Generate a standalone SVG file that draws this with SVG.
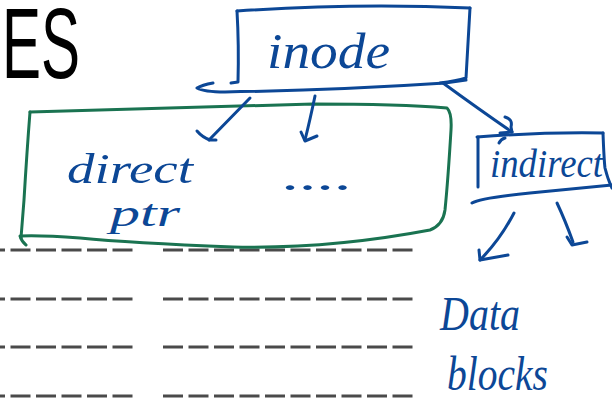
<svg xmlns="http://www.w3.org/2000/svg" width="612" height="400" viewBox="0 0 612 400">
<style>
.ink{fill:none;stroke:#0c4796;stroke-width:3;stroke-linecap:round;stroke-linejoin:round}
.grn{fill:none;stroke:#1a7351;stroke-width:3;stroke-linecap:round;stroke-linejoin:round}
.dash{fill:none;stroke:#4a4a4a;stroke-width:3;stroke-dasharray:20 5.5}
.hw{fill:#0c4796;font-family:"Liberation Serif",serif;font-style:italic}
</style>
<rect width="612" height="400" fill="#ffffff"/>
<g id="title">
<text x="2" y="78" font-family="Liberation Sans, Arial, sans-serif" font-size="101" textLength="78" lengthAdjust="spacingAndGlyphs" fill="#000">ES</text>
</g>
<g id="ruled-lines">
<line class="dash" x1="-15" y1="250" x2="133" y2="250"/>
<line class="dash" x1="163" y1="250" x2="413" y2="250"/>
<line class="dash" x1="-15" y1="299" x2="133" y2="299"/>
<line class="dash" x1="163" y1="299" x2="413" y2="299"/>
<line class="dash" x1="-15" y1="347" x2="133" y2="347"/>
<line class="dash" x1="163" y1="347" x2="413" y2="347"/>
<line class="dash" x1="-15" y1="396" x2="133" y2="396"/>
<line class="dash" x1="163" y1="396" x2="413" y2="396"/>
</g>
<g id="inode">
<path class="ink" d="M237,11 Q355,3 470,8"/>
<path class="ink" d="M237,11 Q239,45 238,82 L231,83"/>
<path class="ink" d="M470,8 Q468,45 466,78 Q456,81 440,83"/>
<path class="ink" d="M213,83 Q202,85 197,88 Q204,92 225,92 Q340,90 445,83 L466,80"/>
<text class="hw" x="267" y="68" font-size="50" textLength="123" lengthAdjust="spacingAndGlyphs">inode</text>
</g>
<g id="direct-block">
<path class="grn" d="M30,112 Q150,108 313,104 Q400,104 447,108 Q452,113 451,130 Q448,180 445,210 Q443,225 430,230 Q330,249 233,247 Q130,243 80,238 Q40,235 20,236 Q22,242 26,245"/>
<path class="grn" d="M30,112 Q27,150 24,200 Q22,225 21,238"/>
<text class="hw" x="67" y="183" font-size="42" textLength="126" lengthAdjust="spacingAndGlyphs">direct</text>
<text class="hw" x="110" y="226" font-size="38" textLength="70" lengthAdjust="spacingAndGlyphs">ptr</text>
<text class="hw" x="283" y="190" font-size="40" textLength="70" lengthAdjust="spacingAndGlyphs">....</text>
</g>
<g id="indirect">
<path class="ink" d="M477,137 Q540,132 603,133"/>
<path class="ink" d="M478,137 L478,187"/>
<path class="ink" d="M499,143 Q501,139 505,138"/>
<path class="ink" d="M603,133 Q604,160 605,168 Q608,180 612,188"/>
<path class="ink" d="M472,203 Q480,198 530,193 Q580,188 612,185"/>
<text class="hw" x="490" y="177" font-size="40" textLength="113" lengthAdjust="spacingAndGlyphs">indirect</text>
</g>
<g id="data-blocks">
<text class="hw" x="440" y="330" font-size="48" textLength="80" lengthAdjust="spacingAndGlyphs">Data</text>
<text class="hw" x="447" y="390" font-size="48" textLength="101" lengthAdjust="spacingAndGlyphs">blocks</text>
</g>
<g id="connectors">
<path class="ink" d="M250,98 L209,140"/>
<path class="ink" d="M197,131 Q202,137 210,140 L216,140"/>
<path class="ink" d="M315,96 Q310,120 305,140"/>
<path class="ink" d="M301,132 L305,141 L317,136"/>
<path class="ink" d="M443,83 Q480,110 512,132"/>
<path class="ink" d="M505,117 Q513,119 511,127 L512,132 L500,133"/>
<path class="ink" d="M514,213 Q500,240 480,260"/>
<path class="ink" d="M479,250 L480,260 L508,255"/>
<path class="ink" d="M557,203 Q565,220 573,242"/>
<path class="ink" d="M567,237 L572,245 L587,242"/>
</g>
</svg>
